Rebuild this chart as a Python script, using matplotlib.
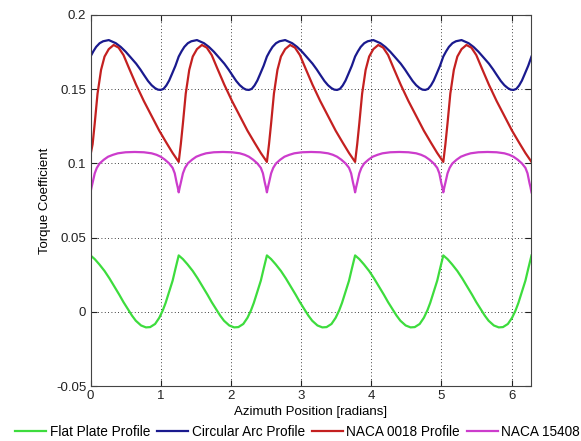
#!/usr/bin/env python3
"""Torque coefficient vs azimuth for four blade profiles."""
import numpy as np
import matplotlib
matplotlib.use("Agg")
import matplotlib.pyplot as plt

plt.rcParams["font.family"] = ["Liberation Sans", "DejaVu Sans"]

# one blade passage (phase in radians within a 2*pi/5 cycle)
n_cycles = 5

flat_phase = [0.0, 0.06, 0.125, 0.2, 0.27, 0.34, 0.41, 0.47, 0.53, 0.59, 0.645, 0.72,
              0.79, 0.85, 0.92, 0.98, 1.03, 1.07, 1.12, 1.17, 1.21, 1.2566]
flat_vals = [0.038, 0.0355, 0.032, 0.0275, 0.0225, 0.017, 0.0115, 0.0065, 0.002, -0.0025,
             -0.006, -0.0092, -0.0105, -0.0103, -0.0082, -0.004, 0.001, 0.006, 0.0135,
             0.021, 0.029, 0.038]

arc_phase = [0.0, 0.04, 0.08, 0.13, 0.18, 0.26, 0.36, 0.43, 0.5, 0.58, 0.65, 0.71, 0.76,
             0.82, 0.87, 0.92, 0.96, 1.0, 1.04, 1.08, 1.12, 1.16, 1.21, 1.2566]
arc_vals = [0.172, 0.1755, 0.1785, 0.181, 0.1823, 0.1831, 0.181, 0.1785, 0.1753, 0.171,
            0.1672, 0.1633, 0.1597, 0.1555, 0.1527, 0.1507, 0.1497, 0.1495, 0.1502,
            0.1525, 0.1558, 0.1602, 0.1658, 0.172]

naca0018_phase = [0.0, 0.03, 0.06, 0.1, 0.15, 0.2, 0.26, 0.33, 0.4, 0.47, 0.55, 0.65,
                  0.76, 0.87, 0.98, 1.08, 1.17, 1.2566]
naca0018_vals = [0.101, 0.113, 0.127, 0.147, 0.163, 0.172, 0.177, 0.1798, 0.178, 0.173,
                 0.164, 0.153, 0.142, 0.132, 0.122, 0.114, 0.107, 0.101]
naca0018_start = 0.1057

naca15408_phase = [0.0, 0.015, 0.03, 0.06, 0.09, 0.13, 0.19, 0.25, 0.32, 0.39, 0.5, 0.63,
                   0.76, 0.87, 0.94, 1.0, 1.06, 1.12, 1.17, 1.2, 1.227, 1.242, 1.2566]
naca15408_vals = [0.0805, 0.084, 0.087, 0.0933, 0.097, 0.1, 0.1025, 0.1045, 0.1058, 0.1068,
                  0.1075, 0.1077, 0.1075, 0.1068, 0.1058, 0.1045, 0.1025, 0.1, 0.097,
                  0.0933, 0.087, 0.084, 0.0805]

# the last legend entry runs off the right edge in the original; only this much shows
labels = ["Flat Plate Profile", "Circular Arc Profile", "NACA 0018 Profile",
          "NACA 15408"]
colors = ["#3ddc3d", "#1a1a8e", "#c42020", "#cc3ccc"]

xticks = [0, 1, 2, 3, 4, 5, 6]
yticks = [-0.05, 0, 0.05, 0.1, 0.15, 0.2]
ytick_labels = ["-0.05", "0", "0.05", "0.1", "0.15", "0.2"]


def unroll(phase, vals):
    period = 2 * np.pi / n_cycles
    xs, ys = [], []
    for k in range(n_cycles):
        start = 0 if k == 0 else 1
        xs.extend(p + k * period for p in phase[start:])
        ys.extend(vals[start:])
    return np.array(xs), np.array(ys)


series = [unroll(flat_phase, flat_vals),
          unroll(arc_phase, arc_vals),
          unroll(naca0018_phase, naca0018_vals),
          unroll(naca15408_phase, naca15408_vals)]
series[2][1][0] = naca0018_start

FS = 9.5

fig = plt.figure(figsize=(5.81, 4.41), dpi=100)
ax = fig.add_axes([0.1558, 0.1247, 0.759, 0.8413])

for (x, y), lab, col in zip(series, labels, colors):
    ax.plot(x, y, color=col, linewidth=1.6, label=lab)

ax.set_xlim(0, 2 * np.pi)
ax.set_ylim(-0.05, 0.2)
ax.set_xticks(xticks)
ax.set_yticks(yticks)
ax.set_yticklabels(ytick_labels)
ax.grid(True, color="black", linestyle=(0, (1, 3)), linewidth=0.6)
ax.tick_params(direction="in", top=True, right=True, length=4, labelsize=FS,
               colors="#222222", pad=3)
for s in ax.spines.values():
    s.set_color("#444444")
    s.set_linewidth(0.8)

ax.set_xlabel("Azimuth Position [radians]", fontsize=FS, labelpad=3)
ax.set_ylabel("Torque Coefficient", fontsize=FS, labelpad=4)

fig.legend(loc="center left", bbox_to_anchor=(0.026, 0.021), ncol=4, frameon=False,
           fontsize=9.8, handlelength=2.3, handletextpad=0.25, columnspacing=0.5,
           borderaxespad=0, borderpad=0)

plt.savefig("out.png", dpi=100)
